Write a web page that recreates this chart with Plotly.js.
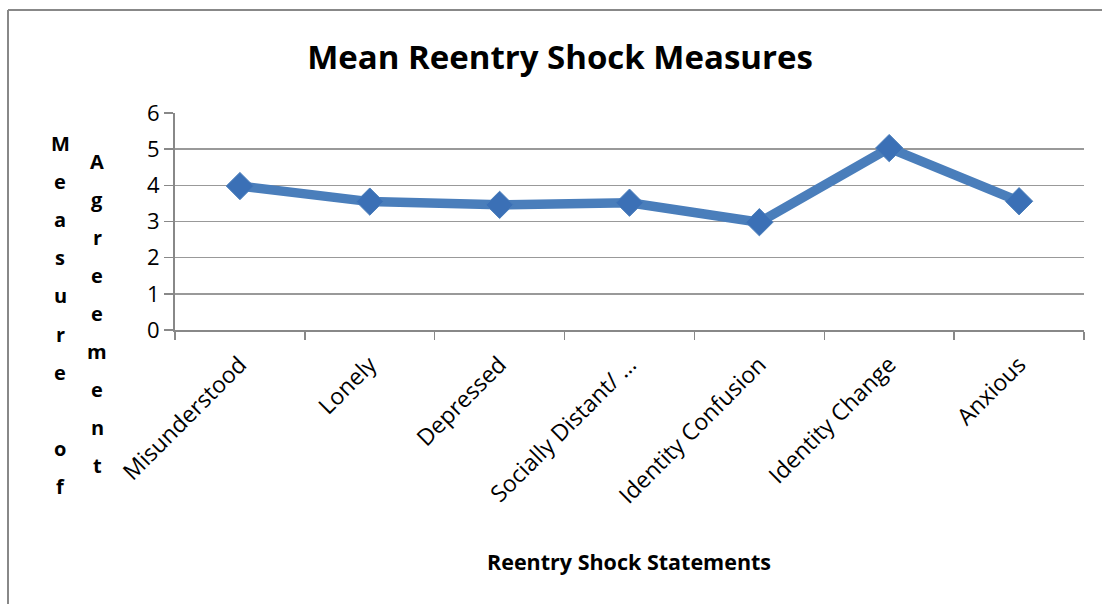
<!DOCTYPE html>
<html>
<head>
<meta charset="utf-8">
<script src="https://cdn.plot.ly/plotly-3.0.1.min.js"></script>
<style>html,body{margin:0;padding:0;background:#fff;}#chart{width:1102px;height:604px;}</style>
</head>
<body>
<div id="chart"></div>
<script>
const categories = ["Misunderstood", "Lonely", "Depressed", "Socially Distant/ …", "Identity Confusion", "Identity Change", "Anxious"];
const meanValues = [3.98, 3.55, 3.46, 3.52, 2.98, 5.03, 3.56];
const yTickValues = [0, 1, 2, 3, 4, 5, 6];
const chartTitle = "Mean Reentry Shock Measures";
const xTitle = "Reentry Shock Statements";
const yTitleCol1 = "Measure of";
const yTitleCol2 = "Agreement";

const W = 1102, H = 604;
const M = {l: 175, r: 18, t: 113, b: 274};
const pw = W - M.l - M.r, ph = H - M.t - M.b;
const px = x => (x - M.l) / pw;
const py = y => (H - M.b - y) / ph;

const font = "Open Sans, Liberation Sans, sans-serif";
const annotations = [];
function column(str, x, y0, step) {
  for (let i = 0; i < str.length; i++) {
    const ch = str[i];
    if (ch === " ") continue;
    annotations.push({xref: "paper", yref: "paper", x: px(x), y: py(y0 + i * step),
      text: "<b>" + ch + "</b>", showarrow: false, xanchor: "center", yanchor: "middle",
      font: {family: font, size: 20, color: "#000"}});
  }
}
column(yTitleCol1, 60, 143, 38.2);
column(yTitleCol2, 97, 161, 38.1);
annotations.push({xref: "paper", yref: "paper", x: px(629), y: py(561), text: "<b>" + xTitle + "</b>",
  showarrow: false, xanchor: "center", yanchor: "middle", font: {family: font, size: 21.5, color: "#000"}});

const trace = {
  type: "scatter", mode: "lines+markers",
  x: categories, y: meanValues,
  line: {color: "#4a7ebb", width: 9.5},
  marker: {symbol: "diamond", size: 21, color: "#3b70b6", line: {color: "#4a7ebb", width: 1}},
  hoverinfo: "skip"
};

const layout = {
  width: W, height: H,
  margin: M,
  paper_bgcolor: "#fff", plot_bgcolor: "#fff",
  showlegend: false,
  title: {text: "<b>" + chartTitle + "</b>", x: 560 / W, xanchor: "center", y: 1 - 57 / H, yanchor: "middle",
    font: {family: font, size: 33, color: "#000"}},
  xaxis: {
    type: "category", range: [-0.5, 6.5], tickangle: -45,
    tickson: "boundaries", ticks: "outside", ticklen: 8, tickwidth: 1.5, tickcolor: "#888",
    ticklabelstandoff: 10,
    showline: true, linecolor: "#888", linewidth: 2, showgrid: false, zeroline: false,
    tickfont: {family: font, size: 23, color: "#000"},
    automargin: false
  },
  yaxis: {
    range: [0, 6], tickvals: yTickValues, ticktext: yTickValues.map(String),
    ticks: "outside", ticklen: 9, tickwidth: 1.5, tickcolor: "#888",
    showline: true, linecolor: "#888", linewidth: 2,
    showgrid: true, gridcolor: "#999", gridwidth: 1.5, zeroline: false,
    tickfont: {family: font, size: 22, color: "#000"},
    automargin: false
  },
  annotations: annotations,
  shapes: [
    {type: "line", xref: "paper", yref: "paper", x0: px(8), x1: px(1102), y0: py(10), y1: py(10), line: {color: "#888", width: 2}},
    {type: "line", xref: "paper", yref: "paper", x0: px(8), x1: px(8), y0: py(10), y1: py(604), line: {color: "#888", width: 2}}
  ]
};

Plotly.newPlot("chart", [trace], layout, {displayModeBar: false, staticPlot: true});
</script>
</body>
</html>
